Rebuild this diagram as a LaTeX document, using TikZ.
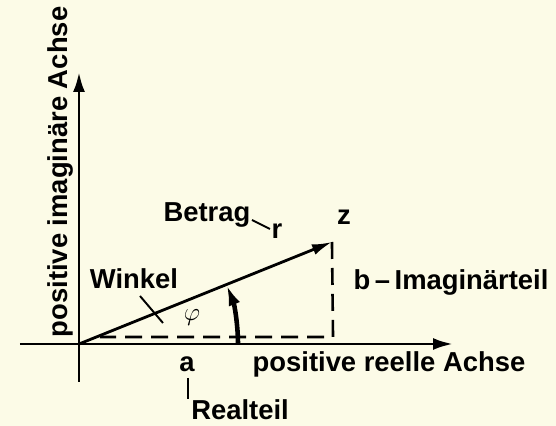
\documentclass[tikz,border=0pt]{standalone}
\usepackage{fontspec}
\setmainfont{Liberation Sans}
\usetikzlibrary{arrows.meta}
\definecolor{paper}{RGB}{252,251,231}
\begin{document}
\begin{tikzpicture}[
    x=0.02cm, y=0.02cm,
    label/.style={inner sep=0pt, anchor=base, font=\fontsize{15.6}{18}\selectfont\bfseries},
    axis/.style={line width=1.7pt, -{Latex[length=0.4cm,width=0.24cm]}},
    vec/.style={line width=1.6pt, -{Latex[length=0.4cm,width=0.22cm]}},
    turn/.style={line width=2.6pt, -{Latex[length=0.42cm,width=0.24cm]}},
    part/.style={line width=1.5pt, dash pattern=on 0.34cm off 0.18cm},
    leader/.style={line width=1.1pt}
]
\fill[paper] (0,0) rectangle (556,-426);
\useasboundingbox (0,0) rectangle (556,-426);

% axes and pointer
\coordinate (O) at (79,-344);
\coordinate (xstart) at (20,-344);
\coordinate (xend) at (453,-344);
\coordinate (ystart) at (79,-382);
\coordinate (yend) at (79,-72);
\coordinate (z) at (332,-242);
\coordinate (zfoot) at (333,-337);
\coordinate (dashend) at (100,-337);
\coordinate (arcstart) at (238,-344);

\draw[axis] (xstart) -- (xend);
\draw[axis] (ystart) -- (yend);
\draw[vec] (O) -- (z);
\draw[part] (z) -- (zfoot) -- (dashend);
\draw[turn] (arcstart) arc[start angle=0, end angle=21.9, radius=159];

% labels
\node[label] (betrag) at (207,-222) {Betrag};
\node[label] (r) at (277,-238) {r};
\node[label] (zlab) at (344,-225) {z};
\node[label] (winkel) at (134,-289) {Winkel};
\node[label, anchor=center, font=\fontsize{14}{16}\selectfont] (phi) at (192,-318) {$\varphi$};
\node[label] (imag) at (451,-290) {b\,–\,Imaginärteil};
\node[label] (a) at (187,-372) {a};
\node[label] (achse) at (389,-372) {positive reelle Achse};
\node[label] (realteil) at (240,-420) {Realteil};
\node[label, rotate=90] (imachse) at (68,-172) {positive imaginäre Achse};

% leader lines
\coordinate (wk1) at (140,-296);
\coordinate (wk2) at (163,-323);
\coordinate (bt1) at (252,-220);
\coordinate (bt2) at (270,-229);
\coordinate (re1) at (188,-378);
\coordinate (re2) at (188,-399);
\draw[leader] (wk1) -- (wk2);
\draw[leader] (bt1) -- (bt2);
\draw[leader] (re1) -- (re2);

\end{tikzpicture}
\end{document}
